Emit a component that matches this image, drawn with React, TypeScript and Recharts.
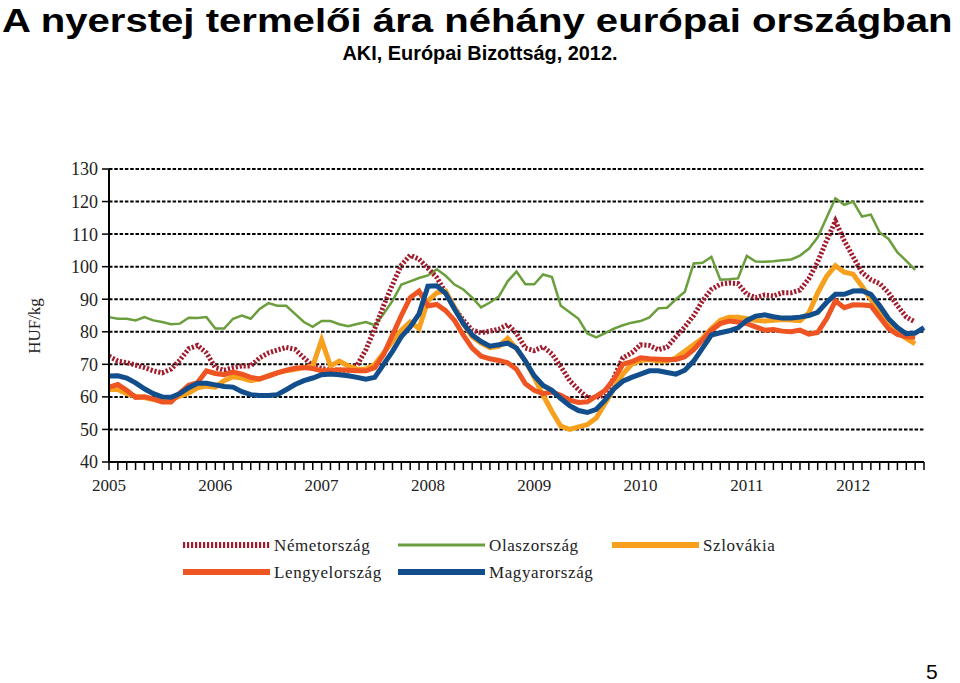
import React from "react";
import { LineChart, Line, XAxis, YAxis, CartesianGrid } from "recharts";

// havi adatok, 2005 jan – 2012 szept
const years = ["2005", "2006", "2007", "2008", "2009", "2010", "2011", "2012"];
const yTicks = [40, 50, 60, 70, 80, 90, 100, 110, 120, 130];

const nemet = [
  72.5, 71, 70.5, 69.8, 69, 68, 67.4, 68.5, 71.3, 74.8, 75.8, 73.5,
  69, 68.2, 69, 69.5, 69.5, 72, 73.5, 74.4, 75.2, 74.6, 72, 69.5,
  68.7, 68.3, 68.2, 68.2, 69.7, 74.5, 81, 88, 94.5, 100.5, 103.5, 102.3,
  99.5, 96.7, 92, 87.3, 83.5, 80.5, 79.7, 80.2, 80.8, 82.2, 79.5, 75,
  74.2, 75.4, 73.2, 69.3, 65, 62.2, 59.8, 59.8, 60.6, 66, 72, 73.5,
  76, 75.8, 74.5, 75.3, 78.5, 81.5, 85, 89.5, 93, 94.6, 95, 94.8,
  91.5, 90.5, 91.3, 91, 92, 92, 92.8, 96.3, 101.5, 108, 114, 108,
  103, 98.2, 96, 94.8, 92, 88, 84.5, 83, null,
];
const olasz = [
  84.5, 84, 84, 83.5, 84.5, 83.5, 83, 82.3, 82.5, 84.3, 84.2, 84.5,
  81, 81, 84, 85, 84, 87, 88.8, 88, 88, 85.5, 83, 81.5,
  83.3, 83.3, 82.3, 81.7, 82.4, 83, 82, 85.5, 89.5, 94.5, 95.5, 96.5,
  97.3, 99.2, 97.2, 94.5, 93, 90.5, 87.5, 89, 90.8, 95.5, 98.5, 94.6,
  94.6, 97.6, 96.8, 88, 86, 84, 79.5, 78.3, 79.6, 81, 82, 82.8,
  83.3, 84.4, 87.2, 87.4, 90, 92.3, 101, 101.2, 103, 96, 96.1, 96.4,
  103.3, 101.6, 101.5, 101.7, 102, 102.2, 103.4, 105.5, 109, 115, 121, 119,
  120, 115.4, 116, 110.5, 108.5, 104.4, 101.8, 99, null,
];
const szlovak = [
  62.3, 62.3, 61, 60.2, 59.8, 59.2, 59, 59.2, 60.2, 61.2, 62.8, 63.3,
  63, 65, 66.2, 65.8, 65, 65.5, 66.5, 67.4, 68, 68.5, 69, 69.5,
  77.5, 69.5, 71, 69.5, 68.5, 68.5, 70, 73.5, 77, 80.5, 83, 81,
  89.5, 92, 92.5, 87.5, 82.5, 78.5, 76.5, 75.1, 75.5, 78, 74.8, 71,
  66, 60.5, 55.5, 51, 50, 50.8, 51.5, 53.5, 58, 62.5, 67, 70,
  71.2, 71.5, 71, 71, 72, 74, 76, 78, 81, 83.5, 84.5, 84.5,
  84, 83.5, 83.3, 83.5, 83.8, 83.6, 83.4, 85.8, 92, 97, 100.3, 98.3,
  97.7, 94, 90, 85.5, 82.3, 79.8, 78, 76.3, null,
];
const lengyel = [
  63, 63.8, 62, 59.8, 60, 59.4, 58.4, 58.4, 61.2, 63.6, 64.4, 68,
  67.2, 66.8, 67.6, 67, 66, 65.5, 66.4, 67.4, 68.2, 68.8, 69, 68.7,
  68, 68, 68.3, 68.2, 68, 68, 69, 73, 79, 85, 90.5, 92.5,
  88, 88.4, 86.5, 83.5, 79, 75, 72.5, 71.7, 71.2, 70.5, 68.5, 64,
  62, 61, 61.5, 60.5, 59, 58.3, 58.5, 60.2, 62, 65.5, 70, 70.8,
  72, 71.7, 71.6, 71.5, 71.5, 72.3, 74.5, 77.5, 80.5, 82.5, 83.3, 83,
  82.5, 81.5, 80.5, 80.7, 80.2, 80, 80.5, 79.3, 79.8, 84, 89.5, 87.4,
  88.3, 88.2, 88, 84.5, 81, 79.2, 78.5, 78.3, null,
];
const magyar = [
  66.4, 66.5, 65.8, 64.3, 62.5, 61, 60, 59.9, 61, 62.8, 64.2, 64.2,
  63.7, 63.2, 63, 61.6, 60.7, 60.4, 60.4, 60.7, 62.2, 63.8, 65, 65.8,
  66.8, 67, 66.8, 66.5, 66, 65.4, 66, 70, 74, 78.5, 81.5, 85.5,
  94, 94.1, 91.8, 87, 82.5, 79, 77, 75.6, 76, 76.5, 75, 71,
  66.5, 63.5, 62, 59.5, 57.3, 55.8, 55.2, 56.2, 59, 62.5, 64.8, 66,
  67, 68, 68, 67.5, 67, 68.2, 71, 75, 79, 79.7, 80.3, 81.2,
  83.5, 84.8, 85.2, 84.6, 84.2, 84.2, 84.5, 85, 86, 89, 91.5, 91.5,
  92.5, 92.6, 91.5, 88, 84, 81.3, 79.4, 79.6, 81.3,
];

const data = magyar.map((_, i) => ({
  m: i,
  de: nemet[i],
  it: olasz[i],
  sk: szlovak[i],
  pl: lengyel[i],
  hu: magyar[i],
}));
const monthTicks = data.map((d) => d.m);

const C = {
  de: "#a11d2e",
  it: "#6b9e3c",
  sk: "#f6a01e",
  pl: "#ef5522",
  hu: "#124d8c",
};

const serif = "'Liberation Serif', 'DejaVu Serif', serif";
const sans = "'Liberation Sans', Arial, sans-serif";

const legendItems = [
  { name: "Németország", color: C.de, dash: "2.2 1.8", w: 6, x: 183, y: 545 },
  { name: "Olaszország", color: C.it, dash: undefined, w: 3, x: 398, y: 545 },
  { name: "Szlovákia", color: C.sk, dash: undefined, w: 6, x: 612, y: 545 },
  { name: "Lengyelország", color: C.pl, dash: undefined, w: 6, x: 183, y: 572 },
  { name: "Magyarország", color: C.hu, dash: undefined, w: 6, x: 398, y: 572 },
];

export default function App() {
  return (
    <div style={{ position: "absolute", left: 0, top: 0, width: 960, height: 683, background: "#fff" }}>
      {/* cím: a betű kissé szélesebbre húzva, mint az eredetin */}
      <div
        style={{
          position: "absolute",
          left: 2,
          top: 3,
          fontFamily: sans,
          fontWeight: "bold",
          fontSize: 34,
          lineHeight: "34px",
          whiteSpace: "nowrap",
          transform: "scaleX(1.18)",
          transformOrigin: "0 0",
        }}
      >
        A nyerstej termelői ára néhány európai országban
      </div>
      <svg width={960} height={70} style={{ position: "absolute", left: 0, top: 0 }}>
        <text x={480} y={60} textAnchor="middle" fontFamily={sans} fontWeight="bold" fontSize={20} textLength={275} lengthAdjust="spacingAndGlyphs">
          AKI, Európai Bizottság, 2012.
        </text>
      </svg>

      <div style={{ position: "absolute", left: 0, top: 0 }}>
        <LineChart width={960} height={520} data={data} margin={{ top: 169, right: 36, bottom: 18, left: 49 }}>
          <CartesianGrid horizontal vertical={false} stroke="#000" strokeWidth={2} strokeDasharray="3.5 1.8" />
          <XAxis
            type="number"
            dataKey="m"
            domain={[0, 92]}
            ticks={monthTicks}
            interval={0}
            height={40}
            tickSize={8}
            tickMargin={9}
            tickFormatter={(v: number) => (v % 12 === 0 ? years[v / 12] : "")}
            axisLine={{ stroke: "#000", strokeWidth: 2 }}
            tickLine={{ stroke: "#000", strokeWidth: 1.5 }}
            tick={{ fill: "#222", fontFamily: serif, fontSize: 17 }}
          />
          <YAxis
            type="number"
            domain={[40, 130]}
            ticks={yTicks}
            interval={0}
            width={60}
            tickSize={7}
            tickMargin={4}
            axisLine={{ stroke: "#000", strokeWidth: 2 }}
            tickLine={{ stroke: "#000", strokeWidth: 1.5 }}
            tick={{ fill: "#222", fontFamily: serif, fontSize: 18 }}
          />
          <Line dataKey="it" stroke={C.it} strokeWidth={2.5} dot={false} isAnimationActive={false} />
          <Line dataKey="de" stroke={C.de} strokeWidth={5} strokeDasharray="2.2 1.8" dot={false} isAnimationActive={false} />
          <Line dataKey="sk" stroke={C.sk} strokeWidth={5} dot={false} isAnimationActive={false} />
          <Line dataKey="pl" stroke={C.pl} strokeWidth={5} dot={false} isAnimationActive={false} />
          <Line dataKey="hu" stroke={C.hu} strokeWidth={5} dot={false} isAnimationActive={false} />
        </LineChart>
      </div>

      <div
        style={{
          position: "absolute",
          left: 35,
          top: 326,
          transform: "translate(-50%, -50%) rotate(-90deg)",
          fontFamily: serif,
          fontSize: 17,
          color: "#222",
          whiteSpace: "nowrap",
        }}
      >
        HUF/kg
      </div>

      <svg width={960} height={60} style={{ position: "absolute", left: 0, top: 530 }}>
        {legendItems.map((it) => (
          <g key={it.name}>
            <line
              x1={it.x}
              x2={it.x + 87}
              y1={it.y - 530}
              y2={it.y - 530}
              stroke={it.color}
              strokeWidth={it.w}
              strokeDasharray={it.dash}
            />
            <text x={it.x + 91} y={it.y - 530 + 6} fontFamily={serif} fontSize={17} letterSpacing={0.6} fill="#222">
              {it.name}
            </text>
          </g>
        ))}
      </svg>

      <div style={{ position: "absolute", left: 926, top: 662, fontFamily: sans, fontSize: 21, lineHeight: "20px", color: "#000" }}>
        5
      </div>
    </div>
  );
}
